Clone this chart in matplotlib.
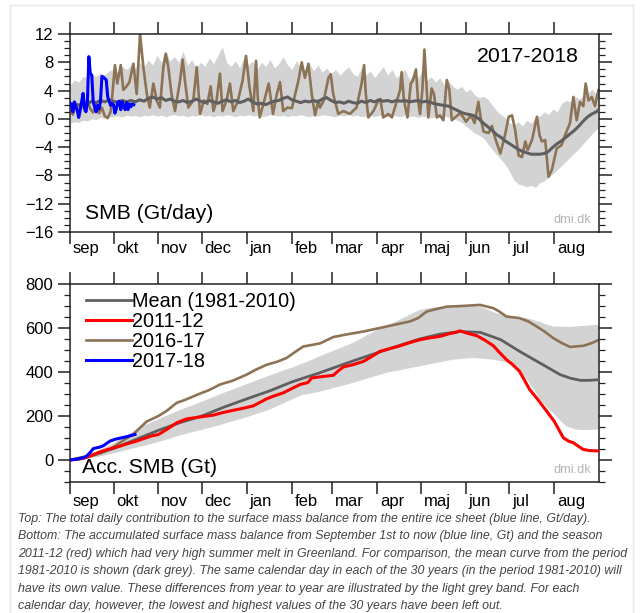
import matplotlib
matplotlib.use("Agg")
import matplotlib.pyplot as plt
from matplotlib.lines import Line2D
from matplotlib.ticker import MultipleLocator, FixedLocator
import numpy as np

plt.rcParams['font.family'] = ['Liberation Sans', 'DejaVu Sans']

# ---------------- data ----------------
month_names = ['sep', 'okt', 'nov', 'dec', 'jan', 'feb', 'mar', 'apr', 'maj', 'jun', 'jul', 'aug']
month_start = [0, 30, 61, 91, 122, 153, 181, 212, 242, 273, 303, 334]

# top panel: band + mean on a 3-day grid (one row = 30 days)
grid_days = list(range(0, 364, 3)) + [364]
band_hi = [4.8, 5.5, 5.2, 6.0, 5.8, 6.3, 6.0, 6.5, 6.2, 6.8,
           7.0, 6.6, 7.4, 7.0, 7.6, 7.2, 8.0, 7.4, 8.3, 7.6,
           9.0, 8.0, 9.6, 8.2, 8.8, 8.0, 9.6, 7.6, 8.4, 7.2,
           8.0, 7.4, 8.6, 7.8, 9.0, 10.2, 8.0, 7.4, 8.2, 7.2,
           8.8, 7.6, 8.2, 7.0, 8.0, 7.4, 8.4, 7.2, 7.8, 8.8,
           7.6, 7.0, 8.2, 7.4, 7.0, 7.8, 6.8, 7.6, 6.6, 7.2,
           6.4, 7.0, 6.2, 6.8, 7.4, 6.4, 6.0, 7.2, 6.2, 6.8,
           5.8, 6.6, 7.4, 6.2, 7.0, 5.8, 6.4, 7.0, 5.6, 6.4,
           5.8, 6.8, 5.4, 6.0, 5.2, 5.8, 4.8, 5.4, 4.6, 4.2,
           4.6, 3.8, 4.2, 3.4, 3.0, 3.2, 2.8, 2.0, 1.2, 0.6,
           0.2, -0.6, -0.8, -0.4, -1.0, -0.2, -0.6, 0.2, 0.4, 1.0,
           0.6, 1.4, 1.0, 2.2, 2.6, 2.4, 3.2, 2.8, 3.2, 3.6,
           4.2, 3.4, 3.6]
band_lo = [-0.6, -0.4, -0.5, -0.2, -0.3, 0.0, -0.1, 0.2, 0.1, 0.3,
           0.3, 0.4, 0.3, 0.5, 0.4, 0.5, 0.3, 0.5, 0.4, 0.6,
           0.4, 0.5, 0.3, 0.5, 0.6, 0.4, 0.5, 0.3, 0.5, 0.4,
           0.6, 0.4, 0.5, 0.3, 0.5, 0.4, 0.6, 0.5, 0.3, 0.5,
           0.4, 0.6, 0.4, 0.5, 0.3, 0.4, 0.6, 0.5, 0.4, 0.5,
           0.3, 0.5, 0.4, 0.6, 0.4, 0.3, 0.5, 0.4, 0.6, 0.5,
           0.4, 0.3, 0.5, 0.4, 0.6, 0.4, 0.5, 0.3, 0.4, 0.5,
           0.3, 0.5, 0.4, 0.3, 0.5, 0.4, 0.3, 0.5, 0.3, 0.4,
           0.2, 0.4, 0.3, 0.1, 0.3, 0.2, 0.4, 0.2, 0.0, -0.2,
           -0.5, -1.0, -1.5, -2.0, -2.3, -2.7, -3.5, -4.3, -5.0, -5.7,
           -6.4, -7.4, -8.6, -9.2, -9.4, -9.6, -9.4, -9.7, -9.0, -8.8,
           -8.2, -7.8, -7.2, -6.6, -6.0, -5.4, -4.8, -4.2, -3.5, -2.8,
           -2.1, -1.5, -1.3]
mean_daily = [2.0, 2.2, 1.9, 2.3, 2.1, 2.5, 2.3, 2.6, 2.4, 2.7,
              2.5, 2.3, 2.6, 2.4, 2.6, 2.4, 2.7, 2.5, 2.9, 3.1,
              2.8, 3.0, 2.6, 2.8, 2.5, 2.4, 2.6, 2.3, 2.5, 2.8,
              2.5, 2.3, 2.6, 2.4, 2.2, 2.5, 2.7, 2.4, 2.6, 2.3,
              2.5, 2.8, 2.4, 2.1, 2.2, 2.0, 2.3, 2.5, 2.6, 2.9,
              3.1, 2.7, 2.5, 2.3, 2.5, 2.4, 2.6, 2.4, 2.8, 3.0,
              2.6, 2.3, 2.4, 2.2, 2.5, 2.3, 2.2, 2.5, 2.3, 2.6,
              2.4, 2.7, 2.5, 2.6, 2.4, 2.6, 2.5, 2.6, 2.4, 2.5,
              2.6, 2.4, 2.5, 2.3, 2.1, 2.0, 1.9, 1.8, 1.5, 1.2,
              0.9, 0.7, 0.6, 0.4, 0.0, -0.6, -1.1, -1.6, -2.2, -2.6,
              -3.1, -3.5, -3.9, -4.3, -4.6, -4.8, -5.0, -5.0, -5.0, -4.9,
              -4.6, -4.0, -3.5, -3.1, -2.6, -2.1, -1.6, -1.0, -0.3, 0.3,
              0.7, 1.0, 1.2]

# 2016-17 daily SMB (vertices)
smb1617_days = [0, 2, 4, 6, 8, 10, 12, 14, 16, 18, 20, 22, 24, 26, 28, 29, 31, 32.6, 35, 36.8, 39, 41,
                43.7, 46, 48.3, 50.6, 53, 55, 57.5, 59.8, 62, 64.4, 66, 67.8, 70, 72.4, 75.9, 77.7,
                79.5, 81.6, 85, 87.4, 89.7, 92.4, 94.7, 97, 98.9, 101, 103.4, 105.2, 108, 110.3,
                112.6, 115.6, 119, 121.4, 123.7, 126.4, 128.3, 129.5, 130.8, 134, 137, 140, 142.6,
                144.8, 147, 150, 153, 157.5, 159.8, 162, 164.4, 166.7, 169, 171.3, 172.4, 175,
                178.2, 179.8, 181.5, 185, 188.5, 193, 197.6, 201.1, 202.8, 204, 205.7, 209.2, 212.6,
                214, 216, 219.5, 222, 225.5, 227.6, 228.7, 230.3, 232.7, 235, 236.4, 238.6, 240,
                241.4, 243, 244.4, 246, 247.1, 249.4, 251, 253, 255, 257.5, 259.8, 261.6, 263.3,
                265.5, 269, 271, 273.1, 276.6, 279, 281.6, 283.3, 285.2, 288.7, 291, 293.3, 296.8,
                300.3, 302.5, 304.8, 307, 309.4, 311.7, 314, 315.6, 318.6, 322, 323.8, 325.4, 327.7,
                330, 332.3, 335.6, 339, 341.4, 344.8, 347.1, 349.4, 351.7, 354, 355.6, 357.5, 359.8,
                362, 364.4, 365]
smb1617_vals = [1.2, 0.6, 2.0, 0.8, 2.4, 1.2, 2.6, 1.4, 0.9, 2.2, 0.8, 1.6, 0.4, 0.1, 1.0, 3.0, 7.6,
                5.0, 7.6, 4.1, 4.6, 5.2, 7.8, 3.5, 12.0, 7.3, 3.5, 1.6, 5.0, 2.6, 1.6, 7.3, 9.2, 7.3,
                3.5, 1.1, 5.4, 8.4, 5.0, 1.6, 2.6, 7.3, 0.7, 2.6, 2.1, 4.6, 1.1, 2.5, 6.4, 1.1, 2.6,
                5.0, 1.1, 2.4, 5.4, 8.9, 4.6, 1.1, 8.2, 3.0, 0.2, 2.6, 5.0, 0.7, 3.5, 5.2, 1.1, 1.6,
                1.5, 5.4, 8.0, 5.8, 7.8, 3.5, 0.5, 2.6, 1.6, 2.6, 5.8, 6.3, 3.5, 0.7, 1.1, 0.7, 1.6,
                5.0, 7.6, 3.5, 0.2, 1.1, 2.6, 2.8, 0.2, 0.7, 0.2, 2.6, 4.1, 6.6, 2.6, 0.2, 5.0, 5.4,
                7.0, 2.6, 0.7, 4.1, 9.8, 4.1, 0.2, 4.3, 3.5, 0.2, 0.5, -0.2, 5.5, 4.1, -0.2, 0.2,
                0.8, 0.3, -0.4, 0.5, -0.6, 2.4, 0.0, -1.8, -2.0, -1.0, -2.8, -4.9, -2.0, 0.3, 0.5,
                -1.6, -5.2, -5.4, -3.2, -4.4, -3.0, 0.3, -2.3, -3.2, -3.0, -8.2, -7.2, -4.2, -3.7,
                -2.3, -0.6, 3.1, -0.2, 2.4, 1.8, 5.0, 2.6, 3.1, 1.8, 4.1, 3.3]

# 2017-18 daily SMB (days 0..44)
smb1718_daily = [2.2, 2.0, 1.0, 2.4, 1.7, 1.2, 0.2, 1.2, 2.4, 3.6, 1.7, 1.0, 2.4, 8.8, 6.4, 6.2, 2.4,
                 1.7, 1.0, 1.9, 1.4, 2.4, 6.0, 5.9, 5.7, 5.5, 3.1, 2.5, 1.9, 2.2, 2.0, 0.8, 1.5, 2.4,
                 2.5, 1.3, 2.4, 1.9, 1.3, 2.3, 1.3, 2.1, 1.7, 2.1, 2.0]

# bottom panel: accumulated SMB
acc_band_hi_days = [0, 10, 20, 30, 40, 48, 61, 75, 91, 106, 122, 138, 153, 165, 172, 185, 195, 210,
                    225, 241, 252, 260, 270, 283, 294, 305, 315, 325, 333, 345, 355, 365]
acc_band_hi = [0, 18, 45, 75, 115, 147, 185, 225, 265, 305, 345, 385, 420, 450, 471, 505, 532, 585,
               630, 682, 695, 697, 700, 697, 667, 650, 645, 625, 607, 605, 610, 615]
acc_band_lo_days = [0, 10, 20, 32, 45, 55, 61, 78, 101, 124, 138, 153, 160, 172, 195, 218, 241, 264,
                    278, 292, 300, 305, 310, 315, 320, 324, 329, 333, 338, 342, 348, 352, 365]
acc_band_lo = [0, 5, 15, 33, 55, 71, 82, 116, 154, 199, 230, 275, 295, 310, 350, 396, 426, 456,
               464, 456, 445, 433, 410, 365, 320, 275, 240, 215, 180, 154, 140, 136, 138]
acc_mean_days = [0, 15, 30, 46, 61, 75, 91, 106, 122, 138, 153, 172, 195, 218, 241, 255, 269, 283,
                 297, 310, 324, 338, 345, 352, 358, 365]
acc_mean = [0, 22, 52, 95, 135, 168, 200, 240, 278, 315, 355, 396, 450, 501, 550, 572, 584, 580,
            547, 494, 441, 388, 372, 362, 362, 365]
acc1112_days = [0, 8, 13.8, 20, 27, 34.5, 40, 46, 52, 56, 61, 67, 73.6, 80.5, 90, 98.9, 105, 112.6,
                120, 126.4, 131, 135.6, 141, 147, 153, 158.6, 164, 166.7, 172.4, 181.6, 185, 188.5,
                195, 202.3, 208, 213.8, 220, 227.6, 234, 241.4, 248, 255.2, 262, 266, 269, 273.6,
                280.5, 286, 292, 296, 301, 305, 310, 317, 322, 328.7, 334, 340.2, 344, 347, 350,
                353.9, 358, 365]
acc1112 = [0, 6, 18, 35, 50, 63, 75, 86, 100, 109, 116, 140, 169, 187, 196, 204, 215, 226, 236, 246,
           262, 278, 292, 305, 325, 343, 352, 373, 378, 385, 405, 423, 433, 448, 470, 494, 505, 519,
           533, 547, 555, 562, 575, 580, 587, 577, 565, 545, 519, 490, 456, 435, 403, 320, 280, 222,
           175, 101, 85, 79, 65, 48, 43, 41]
acc1617_days = [0, 10, 20.7, 28, 34.5, 43.7, 52.9, 61, 67, 73.6, 80, 89.7, 96, 103.4, 112, 121.8,
                128, 135.6, 143, 149.4, 155, 160.9, 166, 172.4, 181.6, 190, 202.3, 210, 218.4, 226,
                234.5, 240, 246, 252, 259.8, 270, 282.8, 292, 296, 301, 310, 316, 321.8, 327, 333.3,
                339, 344.8, 350, 354, 360, 365]
acc1617 = [0, 8, 30, 50, 79, 118, 175, 200, 225, 260, 275, 302, 318, 343, 360, 388, 410, 433, 447,
           464, 490, 516, 522, 530, 559, 570, 584, 595, 607, 618, 630, 645, 675, 685, 697, 700, 705,
           690, 675, 652, 645, 630, 607, 585, 554, 532, 514, 517, 519, 532, 547]
acc1718_days = [0, 5, 10, 11.5, 14, 16.1, 20.7, 23, 27.6, 31, 35, 39, 44.8]
acc1718 = [0, 4, 12, 18, 35, 52, 59, 65, 86, 94, 100, 106, 116]

caption = [
    "Top: The total daily contribution to the surface mass balance from the entire ice sheet (blue line, Gt/day).",
    "Bottom: The accumulated surface mass balance from September 1st to now (blue line, Gt) and the season",
    "2011-12 (red) which had very high summer melt in Greenland. For comparison, the mean curve from the period",
    "1981-2010 is shown (dark grey). The same calendar day in each of the 30 years (in the period 1981-2010) will",
    "have its own value. These differences from year to year are illustrated by the light grey band. For each",
    "calendar day, however, the lowest and highest values of the 30 years have been left out.",
]

# ---------------- styles ----------------
BAND = '#d3d3d3'
MEAN = '#5f5f5f'
BROWN = '#8c7355'
BLUE = '#0000ff'
RED = '#ff0000'
SPINE = '#222222'

W, H = 640, 613
fig = plt.figure(figsize=(W / 100, H / 100), dpi=100)

def fx(px):
    return px / W

def fy(py):
    return 1 - py / H

ax1 = fig.add_axes([fx(70), fy(232), fx(599.3) - fx(70), fy(34) - fy(232)])
ax2 = fig.add_axes([fx(70), fy(482), fx(599.3) - fx(70), fy(284) - fy(482)])


def style_axes(ax, ylim, major, minor, label_off):
    ax.set_xlim(0, 365)
    ax.set_ylim(*ylim)
    for s in ax.spines.values():
        s.set_color(SPINE)
        s.set_linewidth(1.1)
    ax.xaxis.set_major_locator(FixedLocator(month_start))
    ax.yaxis.set_major_locator(MultipleLocator(major))
    ax.yaxis.set_minor_locator(MultipleLocator(minor))
    ax.tick_params(axis='x', which='major', direction='out', length=8.5, width=1.1,
                   color=SPINE, top=True, bottom=True, labelbottom=False)
    ax.tick_params(axis='y', which='major', direction='out', length=9, width=1.1,
                   color=SPINE, left=True, right=True, labelleft=True, labelright=False,
                   labelsize=12, pad=3)
    ax.tick_params(axis='y', which='minor', direction='out', length=4.5, width=0.9,
                   color=SPINE, left=True, right=True)
    for d, name in zip(month_start, month_names):
        ax.annotate(name, xy=(d, 0), xycoords=('data', 'axes fraction'),
                    xytext=(2, -label_off), textcoords='offset points', ha='left', va='center',
                    fontsize=12, annotation_clip=False)


# ---- top panel ----
style_axes(ax1, (-16, 12), 4, 1, 12.2)
ax1.fill_between(grid_days, band_lo, band_hi, color=BAND, lw=0, zorder=1)
ax1.plot(smb1617_days, smb1617_vals, color=BROWN, lw=1.9, zorder=2)
ax1.plot(grid_days, mean_daily, color=MEAN, lw=2.2, zorder=3)
ax1.plot(range(len(smb1718_daily)), smb1718_daily, color=BLUE, lw=2.2, zorder=4)
ax1.text(0.962, 0.885, '2017-2018', transform=ax1.transAxes, ha='right', va='center', fontsize=15.3)
ax1.text(0.028, 0.095, 'SMB (Gt/day)', transform=ax1.transAxes, ha='left', va='center', fontsize=15.2)
ax1.text(0.985, 0.06, 'dmi.dk', transform=ax1.transAxes, ha='right', va='center', fontsize=9.2,
         color='#b4b4b4')

# ---- bottom panel ----
style_axes(ax2, (-100, 800), 200, 50, 14.0)
band_x = np.concatenate([acc_band_hi_days, acc_band_lo_days[::-1]])
band_y = np.concatenate([acc_band_hi, acc_band_lo[::-1]])
ax2.fill(band_x, band_y, color=BAND, lw=0, zorder=1)
l_mean, = ax2.plot(acc_mean_days, acc_mean, color=MEAN, lw=2.0, zorder=3, label='Mean (1981-2010)')
l_red, = ax2.plot(acc1112_days, acc1112, color=RED, lw=2.2, zorder=4, label='2011-12')
l_brown, = ax2.plot(acc1617_days, acc1617, color=BROWN, lw=1.9, zorder=2, label='2016-17')
l_blue, = ax2.plot(acc1718_days, acc1718, color=BLUE, lw=2.2, zorder=5, label='2017-18')
ax2.text(0.023, 0.075, 'Acc. SMB (Gt)', transform=ax2.transAxes, ha='left', va='center', fontsize=15.2)
ax2.text(0.985, 0.06, 'dmi.dk', transform=ax2.transAxes, ha='right', va='center', fontsize=9.2,
         color='#b4b4b4')
leg = ax2.legend(handles=[l_mean, l_red, l_brown, l_blue], loc='upper left',
                 bbox_to_anchor=(0.03, 0.958), frameon=False, fontsize=14.3,
                 handlelength=2.3, handletextpad=0.0, labelspacing=0.05, borderpad=0,
                 borderaxespad=0)

# ---- caption ----
for i, line in enumerate(caption):
    fig.text(fx(18), fy(519 + i * 17.4), line, ha='left', va='center', fontsize=8.9,
             style='italic', color='#444444')

# ---- faint frame ----
for xs, ys in [([10, 10], [5, 613]), ([633, 633], [5, 613]), ([10, 633], [5, 5])]:
    fig.add_artist(Line2D([fx(v) for v in xs], [fy(v) for v in ys], transform=fig.transFigure,
                          color='#e8e8e8', lw=1))

fig.savefig('out.png', dpi=100, facecolor='white')
